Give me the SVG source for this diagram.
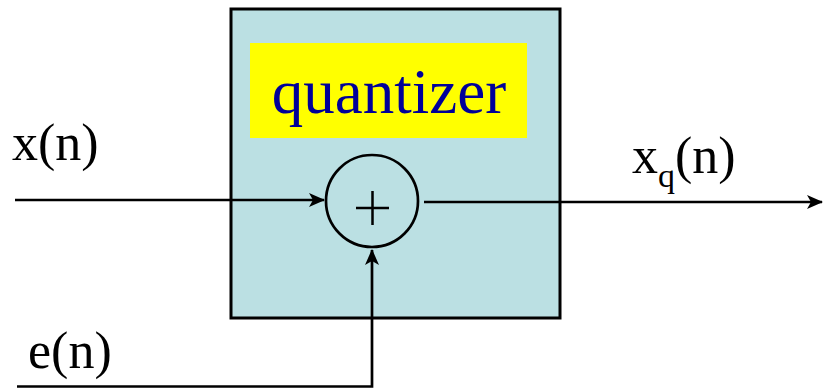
<svg xmlns="http://www.w3.org/2000/svg" width="824" height="388" viewBox="0 0 824 388">
<style>
.t{font-family:"Liberation Serif","Times New Roman",serif;font-size:52px;fill:#000}
.ln{stroke:#000;stroke-width:2.7;fill:none}
</style>
<defs>
<marker id="ah" viewBox="0 0 16 14" refX="15" refY="7" markerWidth="16" markerHeight="14" markerUnits="userSpaceOnUse" orient="auto">
<path d="M0,0 L16,7 L0,14 L4,7 Z" fill="#000"/>
</marker>
</defs>
<g id="quantizer">
<rect x="231" y="9" width="329" height="309" fill="#BBE0E3" stroke="#000" stroke-width="3"/>
<rect x="250" y="43" width="277" height="95" fill="#FFFF00"/>
<text x="389" y="113" text-anchor="middle" style="font-family:'Liberation Serif','Times New Roman',serif;font-size:63px;fill:#000099">quantizer</text>
</g>
<g id="adder">
<circle cx="372" cy="201" r="46" fill="none" stroke="#000" stroke-width="2.7"/>
<path d="M356,208 H389 M372.5,191 V225" stroke="#000" stroke-width="2.5"/>
</g>
<g id="connectors">
<line class="ln" x1="15" y1="200" x2="324" y2="200" marker-end="url(#ah)"/>
<line class="ln" x1="424" y1="202" x2="822" y2="202" marker-end="url(#ah)"/>
<polyline class="ln" points="17,386.5 372,386.5 372,250" marker-end="url(#ah)"/>
</g>
<g id="labels">
<text class="t" x="12" y="160">x(n)</text>
<text class="t" x="28" y="368">e(n)</text>
<text class="t" x="632" y="173">x<tspan font-size="34" dy="14">q</tspan><tspan dy="-14">(n)</tspan></text>
</g>
</svg>
